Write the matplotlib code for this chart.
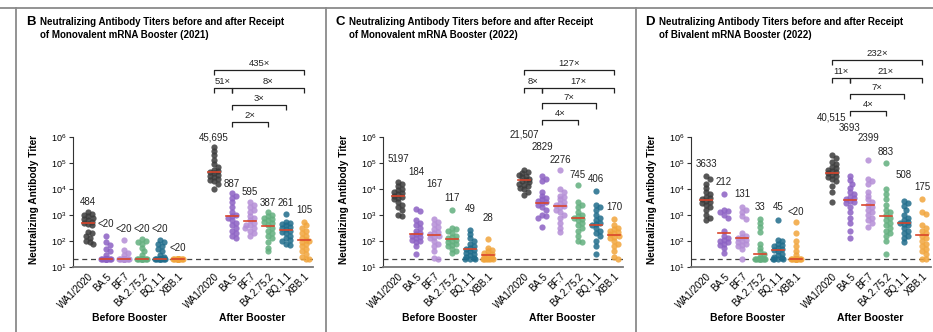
import numpy as np
import matplotlib
matplotlib.use("Agg")
import matplotlib.pyplot as plt
from matplotlib.lines import Line2D
from matplotlib.ticker import NullLocator

plt.rcParams['font.family'] = ['Liberation Sans Narrow', 'Liberation Sans', 'DejaVu Sans']

variants = ['WA1/2020', 'BA.5', 'BF.7', 'BA.2.75.2', 'BQ.1.1', 'XBB.1']
variant_colors = ['#3b3b3b', '#8c61c4', '#b48dd6', '#62af7e', '#1f6c8b', '#f1a53c']
LOD = 20

# individual titers, one list per variant
mono21_before = [
    [1300, 1100, 1000, 900, 800, 700, 630, 560, 500, 450, 400, 220, 200, 160, 130, 100, 90, 80],
    [150, 90, 70, 50, 40, 30, 20, 20, 20, 20, 20, 20, 20, 20, 20, 20, 20],
    [110, 45, 35, 28, 20, 20, 20, 20, 20, 20, 20, 20, 20, 20, 20, 20],
    [115, 100, 90, 80, 55, 40, 30, 20, 20, 20, 20, 20, 20, 20, 20, 20, 20],
    [110, 95, 80, 65, 50, 40, 30, 25, 20, 20, 20, 20, 20, 20, 20, 20, 20],
    [20, 20, 20, 20, 20, 20, 20, 20, 20, 20, 20, 20, 20, 20, 20, 20, 20],
]
mono21_after = [
    [400000, 280000, 200000, 126000, 89000, 71000, 56000, 50000, 45000, 40000, 35000, 32000,
     28000, 25000, 22000, 20000, 16000, 10000],
    [6800, 5600, 4500, 3200, 2000, 1260, 1000, 890, 790, 630, 500, 400, 320, 250, 200, 160, 126],
    [3200, 2500, 2000, 1600, 1260, 890, 790, 630, 500, 400, 400, 320, 320, 250, 200, 160],
    [1260, 1000, 890, 790, 710, 630, 560, 500, 400, 320, 250, 200, 160, 126, 90, 56, 40],
    [1070, 560, 500, 450, 400, 350, 320, 280, 250, 220, 200, 160, 126, 112, 100, 80, 70],
    [550, 400, 320, 250, 200, 160, 126, 112, 100, 90, 80, 63, 50, 40, 32, 25, 20, 20],
]
mono22_before = [
    [19000, 16000, 12600, 10000, 8900, 7900, 7100, 6300, 5600, 5000, 4500, 4000, 3200, 2500,
     2000, 1600, 1000, 930],
    [1660, 1400, 630, 500, 400, 320, 250, 200, 180, 160, 140, 126, 112, 100, 90, 63, 32],
    [710, 560, 450, 355, 280, 220, 200, 180, 160, 140, 126, 100, 80, 63, 40, 22, 20],
    [1550, 320, 280, 250, 200, 160, 140, 126, 112, 100, 90, 80, 71, 63, 50, 40, 35],
    [265, 180, 126, 100, 80, 63, 56, 50, 45, 40, 35, 32, 28, 25, 22, 20, 20, 20],
    [120, 56, 45, 40, 35, 32, 28, 25, 22, 20, 20, 20, 20, 20, 20],
]
mono22_after = [
    [54000, 45000, 40000, 35000, 32000, 28000, 25000, 22000, 20000, 18000, 16000, 14000,
     12600, 11200, 10000, 7900, 5900],
    [32000, 25000, 20000, 7900, 5600, 4500, 4000, 3500, 3200, 2800, 2500, 2000, 1600, 1000,
     890, 790, 355],
    [54000, 10000, 7900, 5600, 5000, 4000, 3200, 2800, 2500, 2200, 2000, 1600, 1260, 1000,
     790, 500, 320, 230],
    [14000, 3200, 2500, 2000, 1260, 1000, 890, 790, 710, 630, 500, 400, 320, 250, 160, 100, 89],
    [8300, 2500, 2000, 1600, 1000, 790, 630, 500, 450, 400, 320, 250, 200, 160, 100, 63, 32],
    [710, 400, 320, 280, 250, 220, 200, 180, 160, 140, 126, 100, 79, 63, 40, 25, 20],
]
biv22_before = [
    [32000, 25000, 16000, 11200, 7900, 6300, 5000, 4500, 4000, 3500, 3200, 2800, 2500, 2000,
     1600, 1000, 790, 630],
    [6300, 1600, 1400, 1260, 1000, 790, 250, 160, 126, 112, 100, 89, 79, 71, 56, 35],
    [2000, 1600, 1260, 890, 710, 200, 160, 140, 126, 112, 100, 89, 79, 71, 63, 50, 20],
    [710, 500, 355, 220, 80, 56, 40, 32, 25, 20, 20, 20, 20, 20, 20, 20, 20, 20],
    [630, 112, 100, 80, 71, 63, 56, 50, 45, 40, 32, 28, 25, 22, 20, 20, 20, 20],
    [550, 200, 100, 63, 40, 28, 20, 20, 20, 20, 20, 20, 20, 20, 20, 20, 20, 20],
]
biv22_after = [
    [200000, 158000, 112000, 89000, 71000, 63000, 56000, 50000, 45000, 40000, 35000, 32000,
     28000, 25000, 20000, 12600, 7900, 3200],
    [32000, 22000, 16000, 11200, 7900, 6300, 5000, 4500, 4000, 3500, 3200, 2800, 2000, 1260,
     790, 500, 250, 126],
    [126000, 25000, 20000, 16000, 7900, 5600, 4000, 3200, 2500, 2000, 1600, 1260, 1000, 790,
     630, 500, 355],
    [100000, 10000, 6300, 4000, 2500, 1600, 1260, 1000, 790, 630, 500, 400, 320, 250, 200,
     160, 100, 32],
    [3500, 2800, 2200, 1600, 1000, 790, 630, 560, 500, 450, 400, 320, 250, 200, 160, 126, 89],
    [4000, 1260, 1120, 400, 320, 250, 200, 160, 126, 100, 80, 63, 50, 40, 32, 20, 20],
]

# geometric mean titers (values at the limit of detection print as "<20")
mono21_gmt_before = [484, 20, 20, 20, 20, 20]
mono21_gmt_after = [45695, 887, 595, 387, 261, 105]
mono22_gmt_before = [5197, 184, 167, 117, 49, 28]
mono22_gmt_after = [21507, 2829, 2276, 745, 406, 170]
biv22_gmt_before = [3633, 212, 131, 33, 45, 20]
biv22_gmt_after = [40515, 3693, 2399, 883, 508, 175]

# fold differences between post-booster GMTs: (from variant, to variant)
fold_pairs = [(0, 5), (0, 1), (1, 5), (1, 4), (1, 3)]
mono21_folds = ['435×', '51×', '8×', '3×', '2×']
mono22_folds = ['127×', '8×', '17×', '7×', '4×']
biv22_folds = ['232×', '11×', '21×', '7×', '4×']

panels = [
    dict(letter='B', title=['Neutralizing Antibody Titers before and after Receipt',
                            'of Monovalent mRNA Booster (2021)'],
         before=mono21_before, after=mono21_after,
         gmt_before=mono21_gmt_before, gmt_after=mono21_gmt_after, folds=mono21_folds,
         left=73, title_x=26,
         lab_before=[0.314, 0.208, 0.184, 0.184, 0.184, 0.092],
         lab_after=[0.628, 0.401, 0.362, 0.309, 0.309, 0.275],
         rows=[0.952, 0.865, 0.783, 0.700]),
    dict(letter='C', title=['Neutralizing Antibody Titers before and after Receipt',
                            'of Monovalent mRNA Booster (2022)'],
         before=mono22_before, after=mono22_after,
         gmt_before=mono22_gmt_before, gmt_after=mono22_gmt_after, folds=mono22_folds,
         left=383, title_x=335,
         lab_before=[0.522, 0.460, 0.401, 0.333, 0.280, 0.237],
         lab_after=[0.638, 0.580, 0.517, 0.444, 0.425, 0.290],
         rows=[0.952, 0.865, 0.790, 0.712]),
    dict(letter='D', title=['Neutralizing Antibody Titers before and after Receipt',
                            'of Bivalent mRNA Booster (2022)'],
         before=biv22_before, after=biv22_after,
         gmt_before=biv22_gmt_before, gmt_after=biv22_gmt_after, folds=biv22_folds,
         left=691, title_x=645,
         lab_before=[0.498, 0.411, 0.353, 0.290, 0.290, 0.266],
         lab_after=[0.720, 0.671, 0.623, 0.556, 0.444, 0.386],
         rows=[1.0, 0.913, 0.836, 0.754]),
]

W, H = 933, 332
AX_TOP, AX_BOT, AX_W = 60, 267, 240
PX_X = 18.0   # pixels per category
PX_DEC = 26.0  # pixels per decade
X0 = -15 / PX_X
pos_before = np.arange(6)
pos_after = np.arange(6) + 7


def swarm(values, step=1.8, max_off=5.4, min_dist=3.6):
    """Deterministic beeswarm offsets (in category units)."""
    y = np.log10(values) * PX_DEC
    cands = [0.0]
    k = 1
    while k * step <= max_off + 1e-9:
        cands += [k * step, -k * step]
        k += 1
    px, py = [], []
    offs = np.zeros(len(values))
    for i in np.argsort(-y, kind='stable'):
        best, best_d = 0.0, -1
        for c in cands:
            d = np.min(np.hypot(np.array(px) - c, np.array(py) - y[i])) if px else np.inf
            if d >= min_dist:
                best = c
                break
            if d > best_d:
                best_d, best = d, c
        offs[i] = best
        px.append(best)
        py.append(y[i])
    return offs / PX_X


def gmt_text(g):
    if g <= LOD:
        return f'<{LOD}'
    return f'{g:,}' if g >= 10000 else str(g)


fig = plt.figure(figsize=(W / 100, H / 100), dpi=100)

# panel frame lines
frame = '#8a8a8a'
fig.add_artist(Line2D([0, 1], [1 - 8 / H] * 2, color=frame, lw=1.3, transform=fig.transFigure))
for xv in (16, 326, 636):
    fig.add_artist(Line2D([xv / W] * 2, [0, 1 - 8 / H], color=frame, lw=1.3,
                          transform=fig.transFigure))

for p in panels:
    ax = fig.add_axes([p['left'] / W, 1 - AX_BOT / H, AX_W / W, (AX_BOT - AX_TOP) / H])
    ax.set_yscale('log')
    ax.set_ylim(10, 10 ** (1 + (AX_BOT - AX_TOP) / PX_DEC))
    ax.set_xlim(X0, X0 + AX_W / PX_X)
    tr = ax.get_xaxis_transform()

    for positions, groups, gmts, labs in ((pos_before, p['before'], p['gmt_before'], p['lab_before']),
                                          (pos_after, p['after'], p['gmt_after'], p['lab_after'])):
        for j, (x, vals, g) in enumerate(zip(positions, groups, gmts)):
            vals = np.array(vals, dtype=float)
            ax.scatter(x + swarm(vals), vals, s=20, color=variant_colors[j], alpha=0.85,
                       linewidths=0, zorder=3, clip_on=False)
            ax.plot([x - 0.33, x + 0.33], [g, g], color='#d9452b', lw=1.2, zorder=4)
            ax.text(x, labs[j], gmt_text(g), transform=tr,
                    ha='center', va='center', fontsize=7, color='#222222')

    ax.axhline(LOD, color='#444444', lw=0.9, ls=(0, (4, 3)), zorder=2)

    # fold-change brackets among post-booster GMTs
    rows = [p['rows'][0], p['rows'][1], p['rows'][1], p['rows'][2], p['rows'][3]]
    for (a, b), lab, yr in zip(fold_pairs, p['folds'], rows):
        xa, xb = pos_after[a], pos_after[b]
        ax.plot([xa, xa, xb, xb], [yr - 0.025, yr, yr, yr - 0.025], color='#222222', lw=0.9,
                transform=tr, clip_on=False, solid_capstyle='butt')
        ax.text((xa + xb) / 2, yr + 0.008, lab, transform=tr, ha='center', va='bottom',
                fontsize=6.8, color='#222222')

    for side in ('top', 'right'):
        ax.spines[side].set_visible(False)
    ax.spines['left'].set_bounds(10, 1e6)
    ax.spines['left'].set_color('#333333')
    ax.spines['bottom'].set_color('#777777')
    ax.spines['bottom'].set_linewidth(1.3)
    ax.set_yticks([10 ** k for k in range(1, 7)])
    ax.yaxis.set_minor_locator(NullLocator())
    ax.tick_params(axis='y', length=3, width=0.8, labelsize=6.5, pad=1.5, color='#333333')
    ax.set_xticks(np.concatenate([pos_before, pos_after]))
    ax.set_xticklabels(variants * 2, rotation=45, ha='right', rotation_mode='anchor',
                       fontsize=7)
    ax.tick_params(axis='x', length=0, pad=3)

    ax.text(-0.163, 0.324, 'Neutralizing Antibody Titer', transform=ax.transAxes,
            rotation=90, ha='center', va='center', fontsize=7.3, fontweight='bold')
    ax.text(2.3, -0.246, 'Before Booster', transform=tr, ha='center', va='center',
            fontsize=7.5, fontweight='bold')
    ax.text(9.1, -0.246, 'After Booster', transform=tr, ha='center', va='center',
            fontsize=7.5, fontweight='bold')

    fig.text(p['title_x'] / W, 1 - 22 / H, p['letter'], fontsize=9.5, fontweight='bold',
             va='center', ha='left')
    for k, line in enumerate(p['title']):
        fig.text((p['title_x'] + 14) / W, 1 - (22 + 13 * k) / H, line, fontsize=7.0,
                 fontweight='bold', va='center', ha='left')

fig.savefig('out.png', dpi=100, facecolor='white')
